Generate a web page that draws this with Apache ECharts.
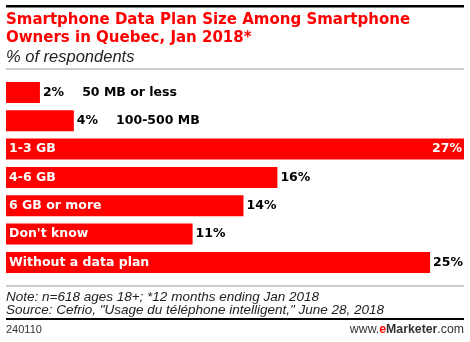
<!DOCTYPE html>
<html><head><meta charset="utf-8">
<script src="https://cdn.jsdelivr.net/npm/echarts@6/dist/echarts.min.js"></script>
<style>html,body{margin:0;padding:0;background:#fff}#c{width:470px;height:342px}</style>
</head><body><div id="c"></div>
<script>
const categories = ["50 MB or less","100-500 MB","1-3 GB","4-6 GB","6 GB or more","Don't know","Without a data plan"];
const values = [2,4,27,16,14,11,25];
const outsideCats = ["50 MB or less","100-500 MB"];
const titleLines = ["Smartphone Data Plan Size Among Smartphone","Owners in Quebec, Jan 2018*"];
const subtitle = "% of respondents";
const notes = ["Note: n=618 ages 18+; *12 months ending Jan 2018","Source: Cefrio, \"Usage du téléphone intelligent,\" June 28, 2018"];
const chartId = "240110";

const RED = "#ff0000";
const FONT = "Liberation Sans, Arial, sans-serif";
const BFONT = "DejaVu Sans, sans-serif";
const chart = echarts.init(document.getElementById('c'), null, {renderer:'canvas'});

const catData = values.map((v,i)=>{
  const inside = outsideCats.indexOf(categories[i]) < 0;
  return {value:v, label:{show:inside}};
});
const valData = values.map((v,i)=>{
  const outside = outsideCats.indexOf(categories[i]) >= 0;
  const d = {value:v};
  if (outside) {
    d.label = {formatter: v + '%{gap|}' + '{c|' + categories[i] + '}'};
  } else if (v === Math.max(...values)) {
    d.label = {position:'insideRight', color:'#fff', offset:[1,0]};
  }
  return d;
});

chart.setOption({
  animation:false,
  grid:{left:6, right:6, top:78.3, height:198.3, containLabel:false},
  xAxis:{type:'value', min:0, max:27, show:false},
  yAxis:{type:'category', data:categories, inverse:true, show:false},
  series:[
    {type:'bar', data:catData, barWidth:21, itemStyle:{color:RED},
     label:{show:true, position:'insideLeft', formatter:(p)=>categories[p.dataIndex], color:'#fff',
       fontFamily:BFONT, fontWeight:'bold', fontSize:12.5, offset:[-2,0]}},
    {type:'bar', data:valData, barWidth:21, barGap:'-100%', itemStyle:{color:'rgba(0,0,0,0)'},
     label:{show:true, position:'right', distance:3, formatter:'{c}%', color:'#000',
       fontFamily:BFONT, fontWeight:'bold', fontSize:12.5,
       rich:{gap:{width:18}, c:{fontFamily:BFONT, fontWeight:'bold', fontSize:12.5, color:'#000'}}}}
  ],
  graphic:[
    {type:'rect', shape:{x:6, y:5, width:458, height:2.5}, style:{fill:'#000'}},
    {type:'text', style:{x:6, y:20, text:titleLines[0], font:'bold 15px '+BFONT, fill:RED, verticalAlign:'middle'}},
    {type:'text', style:{x:6, y:38, text:titleLines[1], font:'bold 15px '+BFONT, fill:RED, verticalAlign:'middle'}},
    {type:'text', style:{x:6, y:57, text:subtitle, font:'italic 16.5px '+FONT, fill:'#222', verticalAlign:'middle'}},
    {type:'rect', shape:{x:6, y:68.5, width:458, height:1}, style:{fill:'#999'}},
    {type:'rect', shape:{x:6, y:285.5, width:458, height:1}, style:{fill:'#999'}},
    {type:'text', style:{x:6, y:297, text:notes[0], font:'italic 13.5px '+FONT, fill:'#222', verticalAlign:'middle'}},
    {type:'text', style:{x:6, y:310, text:notes[1], font:'italic 13.5px '+FONT, fill:'#222', verticalAlign:'middle'}},
    {type:'rect', shape:{x:6, y:318, width:458, height:2}, style:{fill:'#000'}},
    {type:'text', style:{x:6, y:330, text:chartId, font:'11px '+FONT, fill:'#333', verticalAlign:'middle'}},
    {type:'text', style:{x:464, y:330, text:'{a|www.}{b|e}{c|Marketer}{a|.com}', align:'right', verticalAlign:'middle',
      rich:{a:{font:'12.3px '+FONT, fill:'#333'}, b:{font:'bold 12.3px '+FONT, fill:RED}, c:{font:'bold 12.3px '+FONT, fill:'#333'}}}}
  ]
});
</script></body></html>
